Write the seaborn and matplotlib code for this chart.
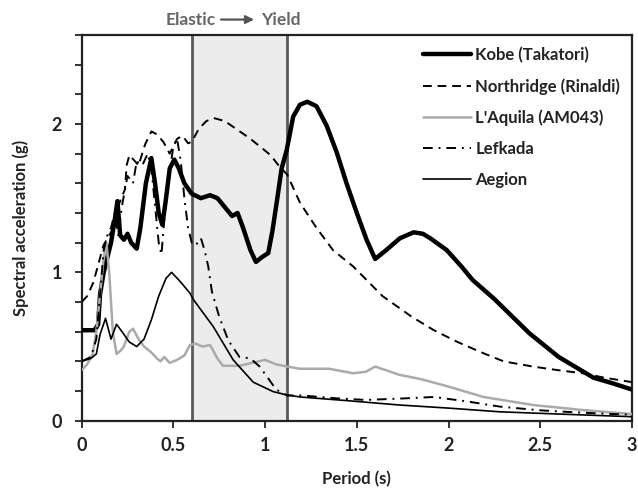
import numpy as np
import pandas as pd
import matplotlib
matplotlib.use("Agg")
import matplotlib.pyplot as plt
import seaborn as sns

# ---------------- data ----------------
kobe_T = [0, 0.07, 0.09, 0.10, 0.12, 0.14, 0.16, 0.18, 0.195, 0.21, 0.23, 0.25, 0.27, 0.30,
          0.32, 0.35, 0.38, 0.40, 0.42, 0.44, 0.46, 0.48, 0.505, 0.53, 0.56, 0.60, 0.65, 0.70,
          0.74, 0.78, 0.82, 0.85, 0.88, 0.92, 0.95, 0.98, 1.017, 1.04, 1.063, 1.09, 1.117,
          1.153, 1.19, 1.23, 1.28, 1.335, 1.39, 1.444, 1.50, 1.553, 1.60, 1.66, 1.735, 1.81,
          1.86, 1.90, 1.99, 2.07, 2.13, 2.25, 2.44, 2.60, 2.79, 2.90, 3.00]
kobe_Sa = [0.61, 0.61, 0.65, 0.85, 1.00, 1.10, 1.20, 1.35, 1.48, 1.25, 1.22, 1.26, 1.20, 1.16,
           1.30, 1.60, 1.77, 1.60, 1.40, 1.32, 1.50, 1.70, 1.76, 1.70, 1.60, 1.53, 1.50, 1.52,
           1.50, 1.44, 1.38, 1.40, 1.30, 1.15, 1.07, 1.10, 1.13, 1.28, 1.47, 1.70, 1.82,
           2.05, 2.13, 2.15, 2.12, 1.99, 1.81, 1.60, 1.40, 1.22, 1.09, 1.15, 1.23, 1.27,
           1.26, 1.23, 1.15, 1.04, 0.95, 0.82, 0.59, 0.43, 0.29, 0.25, 0.21]

north_T = [0, 0.03, 0.063, 0.09, 0.118, 0.15, 0.17, 0.20, 0.236, 0.245, 0.26, 0.29, 0.31,
           0.345, 0.38, 0.41, 0.445, 0.48, 0.52, 0.55, 0.58, 0.60, 0.64, 0.68, 0.72, 0.78,
           0.85, 0.92, 0.98, 1.03, 1.08, 1.12, 1.19, 1.28, 1.37, 1.48, 1.64, 1.80, 1.92, 2.05,
           2.19, 2.30, 2.46, 2.60, 2.73, 2.85, 3.00]
north_Sa = [0.80, 0.84, 0.93, 1.05, 1.18, 1.25, 1.29, 1.45, 1.56, 1.72, 1.79, 1.75, 1.72,
            1.86, 1.95, 1.93, 1.88, 1.80, 1.90, 1.92, 1.87, 1.88, 1.97, 2.02, 2.04, 2.02,
            1.96, 1.90, 1.84, 1.79, 1.71, 1.66, 1.47, 1.30, 1.15, 1.04, 0.84, 0.70, 0.61, 0.53,
            0.455, 0.40, 0.365, 0.34, 0.32, 0.29, 0.26]

aquila_T = [0, 0.03, 0.06, 0.08, 0.10, 0.12, 0.135, 0.15, 0.17, 0.19, 0.21, 0.23, 0.26, 0.28,
            0.31, 0.34, 0.38, 0.41, 0.43, 0.45, 0.48, 0.52, 0.56, 0.59, 0.62, 0.66, 0.70, 0.74,
            0.77, 0.86, 0.93, 1.00, 1.06, 1.12, 1.19, 1.35, 1.48, 1.55, 1.60, 1.66, 1.73, 1.85,
            2.00, 2.19, 2.46, 2.73, 3.00]
aquila_Sa = [0.34, 0.38, 0.45, 0.60, 0.85, 1.10, 1.20, 1.00, 0.60, 0.45, 0.47, 0.50, 0.60, 0.62,
             0.55, 0.50, 0.46, 0.42, 0.40, 0.43, 0.39, 0.41, 0.44, 0.51, 0.52, 0.50, 0.51, 0.42,
             0.37, 0.37, 0.39, 0.41, 0.38, 0.365, 0.35, 0.35, 0.32, 0.33, 0.365, 0.34, 0.31, 0.28,
             0.23, 0.16, 0.106, 0.072, 0.045]

lefk_T = [0, 0.05, 0.08, 0.10, 0.12, 0.14, 0.16, 0.18, 0.20, 0.22, 0.25, 0.28, 0.30, 0.33,
          0.36, 0.38, 0.40, 0.42, 0.435, 0.45, 0.47, 0.50, 0.52, 0.54, 0.56, 0.58, 0.60, 0.62,
          0.65, 0.67, 0.69, 0.71, 0.75, 0.80, 0.86, 0.92, 0.97, 1.02, 1.06, 1.12, 1.20, 1.40,
          1.55, 1.75, 1.92, 2.10, 2.28, 2.50, 2.64, 2.80, 3.00]
lefk_Sa = [0.40, 0.43, 0.55, 0.85, 1.15, 1.25, 1.30, 1.40, 1.25, 1.45, 1.65, 1.60, 1.75, 1.72,
           1.80, 1.70, 1.45, 1.20, 1.12, 1.35, 1.60, 1.85, 1.90, 1.75, 1.50, 1.30, 1.20, 1.18,
           1.23, 1.15, 1.04, 0.87, 0.70, 0.54, 0.43, 0.42, 0.365, 0.28, 0.21, 0.17, 0.17, 0.15,
           0.14, 0.15, 0.16, 0.13, 0.095, 0.07, 0.06, 0.05, 0.04]

aeg_T = [0, 0.05, 0.08, 0.10, 0.13, 0.16, 0.19, 0.22, 0.26, 0.30, 0.34, 0.38, 0.42, 0.46, 0.49,
         0.536, 0.59, 0.61, 0.717, 0.826, 0.935, 1.044, 1.117, 1.19, 1.45, 1.73, 2.00, 2.28,
         2.60, 3.00]
aeg_Sa = [0.40, 0.42, 0.45, 0.58, 0.69, 0.55, 0.65, 0.60, 0.53, 0.50, 0.55, 0.68, 0.84, 0.96,
          1.00, 0.94, 0.86, 0.815, 0.635, 0.41, 0.26, 0.196, 0.174, 0.16, 0.135, 0.106, 0.085,
          0.06, 0.045, 0.027]

names = ["Kobe (Takatori)", "Northridge (Rinaldi)", "L'Aquila (AM043)", "Lefkada", "Aegion"]
elastic_T, yield_T = 0.6, 1.12
x_ticks = [0, 0.5, 1, 1.5, 2, 2.5, 3]
x_ticklabels = ["0", "0.5", "1", "1.5", "2", "2.5", "3"]
y_ticks = [0, 1, 2]

# ---------------- figure ----------------
sns.set_theme(style="white")
plt.rcParams["font.family"] = ["Lato", "DejaVu Sans"]
plt.rcParams["font.weight"] = "bold"

fig = plt.figure(figsize=(6.38, 4.90), dpi=100)
ax = fig.add_axes([0.128, 0.1414, 0.8626, 0.7872])

ax.axvspan(elastic_T, yield_T, color="#ececec", zorder=0)
ax.axvline(elastic_T, color="#5a5a5a", lw=2.0, zorder=1)
ax.axvline(yield_T, color="#5a5a5a", lw=2.0, zorder=1)

series = [
    (kobe_T, kobe_Sa, dict(color="black", lw=3.2)),
    (north_T, north_Sa, dict(color="black", lw=1.4, dashes=(4.5, 3))),
    (aquila_T, aquila_Sa, dict(color="#aaaaaa", lw=1.8)),
    (lefk_T, lefk_Sa, dict(color="black", lw=1.4, dashes=(5, 3, 1, 3))),
    (aeg_T, aeg_Sa, dict(color="black", lw=1.2)),
]
for name, (T, Sa, kw) in zip(names, series):
    df = pd.DataFrame({"Period": T, "Sa": Sa})
    sns.lineplot(data=df, x="Period", y="Sa", ax=ax, label=name, estimator=None,
                 sort=False, solid_joinstyle="round", solid_capstyle="round", zorder=3, **kw)

ax.set_xlim(0, 3)
ax.set_ylim(0, 2.6)
ax.set_xticks(x_ticks)
ax.set_xticklabels(x_ticklabels)
ax.set_yticks(y_ticks)
ax.set_yticks(np.arange(0, 2.61, 0.2), minor=True)
ax.tick_params(axis="both", which="major", direction="out", length=5, width=1.3,
               labelsize=13, colors="#222222", left=True, bottom=True, pad=7)
ax.tick_params(axis="y", which="minor", direction="out", length=5, width=1.3,
               colors="#222222", left=True)
ax.tick_params(axis="y", which="major", pad=9)
for lab in ax.get_xticklabels() + ax.get_yticklabels():
    lab.set_fontweight("bold")
    lab.set_color("#222222")

for sp in ax.spines.values():
    sp.set_visible(True)
    sp.set_color("#222222")
    sp.set_linewidth(1.6)

ax.set_xlabel("Period (s)", fontsize=12, fontweight="bold", color="#222222", labelpad=12)
ax.set_ylabel("Spectral acceleration (g)", fontsize=12, fontweight="bold", color="#222222",
              labelpad=16)

leg = ax.legend(loc="upper right", frameon=False, fontsize=12, handlelength=2.9,
                handletextpad=0.25, labelspacing=0.9, borderaxespad=0.3)
for t in leg.get_texts():
    t.set_fontweight("bold")
    t.set_color("#222222")

# "Elastic -> Yield" annotation above the shaded band
trans = ax.get_xaxis_transform()
ax.text(0.73, 1.04, "Elastic", transform=trans, ha="right", va="center",
        fontsize=12.5, fontweight="bold", color="#666666", clip_on=False)
ax.annotate("", xy=(0.94, 1.04), xytext=(0.76, 1.04), xycoords=trans, textcoords=trans,
            arrowprops=dict(arrowstyle="-|>", color="#555555", lw=1.6, mutation_scale=12,
                            shrinkA=0, shrinkB=0), annotation_clip=False)
ax.text(0.98, 1.04, "Yield", transform=trans, ha="left", va="center",
        fontsize=12.5, fontweight="bold", color="#666666", clip_on=False)

fig.savefig("out.png", dpi=100)
